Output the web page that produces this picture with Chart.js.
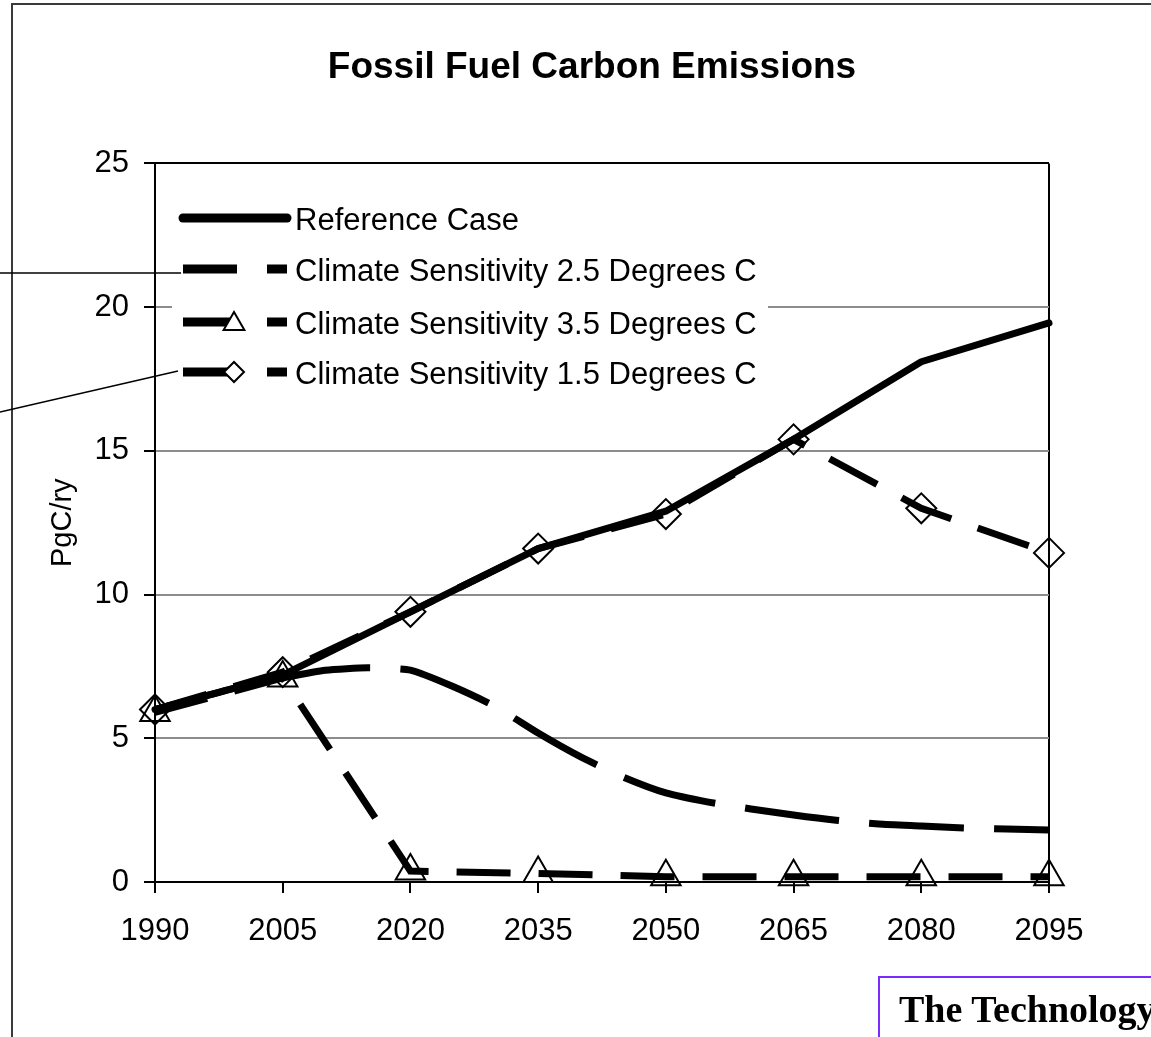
<!DOCTYPE html>
<html>
<head>
<meta charset="utf-8">
<script src="https://cdn.jsdelivr.net/npm/chart.js@4.4.1/dist/chart.umd.min.js"></script>
<style>
    html, body { margin: 0; padding: 0; background: #fff; overflow: hidden; }
    #page { position: relative; width: 1151px; height: 1037px; overflow: hidden; }
    #frame { position: absolute; left: 11px; top: 3px; width: 1300px; height: 1200px; border: 2px solid #3a3a3a; box-sizing: border-box; }
    #wrap { position: absolute; left: 0; top: 0; width: 1151px; height: 1037px; }
    #callouts { position: absolute; left: 0; top: 0; pointer-events: none; }
    #note { position: absolute; left: 878px; top: 976px; width: 400px; height: 200px; border: 2px solid #7a2cff; box-sizing: border-box; }
    #note span { position: absolute; left: 19px; top: 12px; font: bold 38px "Liberation Serif", "Times New Roman", serif; line-height: 38px; white-space: nowrap; color: #000; }
</style>
</head>
<body>
<div id="page">
    <div id="frame"></div>
    <div id="wrap"><canvas id="emissionsChart"></canvas></div>
    <svg id="callouts" width="1151" height="1037">
        <line x1="0" y1="273" x2="181" y2="273" stroke="#000" stroke-width="1.5"/>
        <line x1="0" y1="412" x2="178" y2="371" stroke="#000" stroke-width="1.5"/>
    </svg>
    <div id="note"><span>The Technology</span></div>
</div>
<script>
// values (PgC/yr)
const years = [1990, 2005, 2020, 2035, 2050, 2065, 2080, 2095];
const yTicks = [0, 5, 10, 15, 20, 25];
const referenceCase = [6.0, 7.2, 9.4, 11.6, 12.9, 15.4, 18.1, 19.45];
const sens35 = [5.9, 7.1, 0.38, 0.3, 0.18, 0.18, 0.18, 0.18];
const sens15 = [6.0, 7.3, 9.4, 11.6, 12.8, 15.4, 13.0, 11.45];
// the 2.5 degree curve is smooth, so it is read every 5 years
const sens25Years = [1990, 1995, 2000, 2005, 2010, 2015, 2020, 2025, 2030, 2035, 2040, 2045, 2050, 2055, 2060, 2065, 2070, 2075, 2080, 2085, 2090, 2095];
const sens25 = [6.0, 6.4, 6.8, 7.1, 7.37, 7.45, 7.37, 6.8, 6.1, 5.18, 4.35, 3.65, 3.1, 2.78, 2.54, 2.33, 2.15, 2.02, 1.95, 1.88, 1.84, 1.81];
const seriesNames = ['Reference Case', 'Climate Sensitivity 2.5 Degrees C', 'Climate Sensitivity 3.5 Degrees C', 'Climate Sensitivity 1.5 Degrees C'];

function toPoints(xs, ys) {
    return xs.map((x, i) => ({ x: x, y: ys[i] }));
}

Chart.defaults.font.family = '"Liberation Sans", Arial, sans-serif';
Chart.defaults.color = '#000';

// Excel-style legend box sitting inside the plot area
const boxLegend = {
    id: 'boxLegend',
    afterLayout(chart) {
        // the title is centred a bit right of the canvas middle
        if (chart.titleBlock) chart.titleBlock.left = 135;
    },
    afterDatasetsDraw(chart) {
        const ctx = chart.ctx;
        const rows = [221, 272, 325, 375];
        ctx.save();
        ctx.fillStyle = '#fff';
        ctx.fillRect(172, 196, 596, 204);
        chart.data.datasets.forEach((ds, i) => {
            const y = rows[i] - 3;
            ctx.strokeStyle = '#000';
            ctx.lineWidth = 9;
            if (ds.borderDash && ds.borderDash.length) {
                ctx.lineCap = 'butt';
                ctx.setLineDash([54, 30]);
            } else {
                ctx.lineCap = 'round';
                ctx.setLineDash([]);
            }
            ctx.beginPath();
            ctx.moveTo(183, y);
            ctx.lineTo(287, y);
            ctx.stroke();
            ctx.setLineDash([]);
            if (ds.pointStyle && ds.pointRadius > 0) {
                ctx.fillStyle = '#fff';
                ctx.strokeStyle = '#000';
                ctx.lineWidth = 2;
                Chart.helpers.drawPoint(ctx, {
                    pointStyle: ds.pointStyle,
                    radius: ds.pointStyle === 'triangle' ? 12 : 10,
                    rotation: 0,
                    borderWidth: 2
                }, 234, y + (ds.pointStyle === 'triangle' ? 2 : 0));
            }
            ctx.fillStyle = '#000';
            ctx.font = '31px "Liberation Sans", Arial, sans-serif';
            ctx.textAlign = 'left';
            ctx.textBaseline = 'middle';
            ctx.fillText(ds.label, 295, rows[i]);
        });
        ctx.restore();
    }
};

const ctx = document.getElementById('emissionsChart').getContext('2d');
new Chart(ctx, {
    type: 'line',
    data: {
        datasets: [{
            label: seriesNames[0],
            data: toPoints(years, referenceCase),
            borderColor: '#000',
            borderWidth: 7,
            pointRadius: 0,
            borderJoinStyle: 'round',
            borderCapStyle: 'round',
            clip: false,
            order: 3
        }, {
            label: seriesNames[1],
            data: toPoints(sens25Years, sens25),
            borderColor: '#000',
            borderWidth: 7,
            borderDash: [95, 30],
            pointRadius: 0,
            tension: 0.2,
            clip: false,
            order: 2
        }, {
            label: seriesNames[2],
            data: toPoints(years, sens35),
            borderColor: '#000',
            borderWidth: 7,
            borderDash: [54, 28],
            pointStyle: 'triangle',
            pointRadius: 17,
            pointHoverRadius: 17,
            pointBorderWidth: 2,
            pointBorderColor: '#000',
            pointBackgroundColor: 'rgba(0,0,0,0)',
            clip: false,
            order: 1
        }, {
            label: seriesNames[3],
            data: toPoints(years, sens15),
            borderColor: '#000',
            borderWidth: 7,
            borderDash: [54, 28],
            pointStyle: 'rectRot',
            pointRadius: 15,
            pointHoverRadius: 15,
            pointBorderWidth: 2,
            pointBorderColor: '#000',
            pointBackgroundColor: 'rgba(0,0,0,0)',
            clip: false,
            order: 0
        }]
    },
    options: {
        responsive: true,
        maintainAspectRatio: false,
        animation: false,
        layout: { padding: { left: 20, top: 46, right: 102, bottom: 20 } },
        plugins: {
            legend: { display: false },
            tooltip: { enabled: false },
            title: {
                display: true,
                text: 'Fossil Fuel Carbon Emissions',
                font: { size: 37, weight: 'bold' },
                color: '#000',
                padding: { top: 0, bottom: 73 }
            }
        },
        scales: {
            x: {
                type: 'linear',
                min: years[0],
                max: years[years.length - 1],
                afterBuildTicks: (scale) => { scale.ticks = years.map(v => ({ value: v })); },
                afterFit: (scale) => { scale.height = 135; },
                ticks: {
                    font: { size: 31 },
                    color: '#000',
                    padding: 20,
                    maxRotation: 0,
                    callback: (v) => String(v)
                },
                grid: {
                    color: (c) => (c.tick && c.tick.value === years[years.length - 1]) ? '#000' : 'rgba(0,0,0,0)',
                    lineWidth: 2,
                    tickLength: 11,
                    tickColor: '#000',
                    tickWidth: 2
                },
                border: { display: true, color: '#000', width: 2 }
            },
            y: {
                min: 0,
                max: 25,
                afterBuildTicks: (scale) => { scale.ticks = yTicks.map(v => ({ value: v })); },
                afterFit: (scale) => { scale.width = 135; },
                ticks: {
                    font: { size: 31 },
                    color: '#000',
                    padding: 15
                },
                grid: {
                    color: (c) => (c.tick && (c.tick.value === 25 || c.tick.value === 0)) ? '#000' : '#8c8c8c',
                    lineWidth: 2,
                    tickLength: 11,
                    tickColor: '#000',
                    tickWidth: 2
                },
                border: { display: true, color: '#000', width: 2 },
                title: {
                    display: true,
                    text: 'PgC/ry',
                    font: { size: 29 },
                    color: '#000',
                    padding: { top: 26, bottom: 0 }
                }
            }
        }
    },
    plugins: [boxLegend]
});
</script>
</body>
</html>
